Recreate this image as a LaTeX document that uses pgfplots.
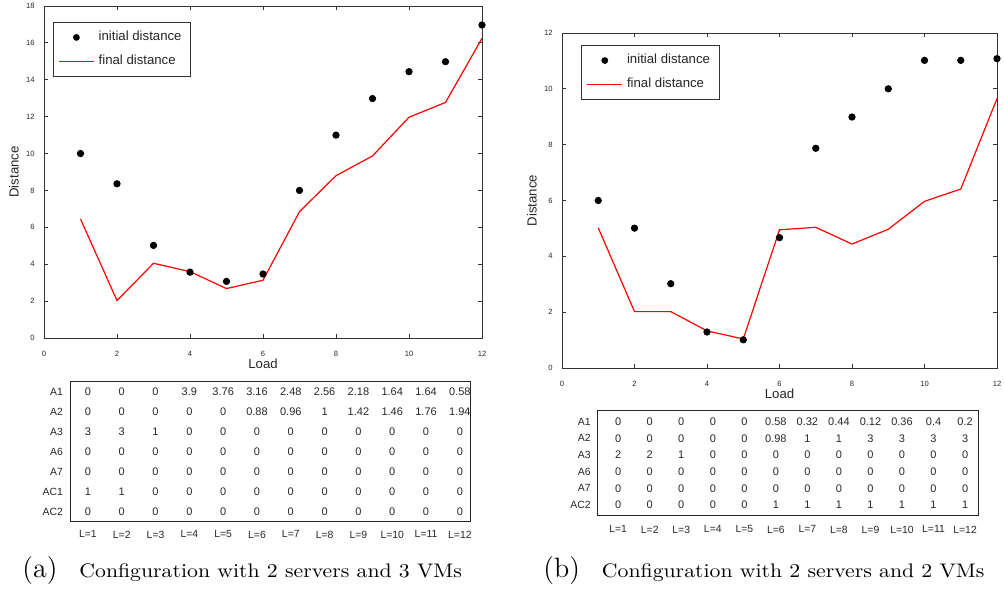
\documentclass[border=0pt]{standalone}
\usepackage{fontspec}
\usepackage{graphicx}
\usepackage{pgfplots}
\usepackage{pgfplotstable}
\pgfplotsset{compat=1.18}
\newfontfamily\hv{Liberation Sans}

\pgfplotstableread{
x init fin
1 10 6.45
2 8.36 2.03
3 5.02 4.05
4 3.57 3.6
5 3.07 2.68
6 3.47 3.13
7 8 6.85
8 11 8.8
9 12.98 9.87
10 14.44 11.97
11 14.98 12.77
12 16.97 16.25
}\dataA

\pgfplotstableread{
x init fin
1 6 5.02
2 5.01 2.02
3 3.02 2.02
4 1.29 1.33
5 1.01 1.04
6 4.67 4.95
7 7.87 5.04
8 8.99 4.44
9 10 4.97
10 11.02 5.97
11 11.02 6.41
12 11.08 9.65
}\dataB

\pgfplotstableread{
L A1 A2 A3 A6 A7 AC1 AC2
1 0 0 3 0 0 1 0
2 0 0 3 0 0 1 0
3 0 0 1 0 0 0 0
4 3.9 0 0 0 0 0 0
5 3.76 0 0 0 0 0 0
6 3.16 0.88 0 0 0 0 0
7 2.48 0.96 0 0 0 0 0
8 2.56 1 0 0 0 0 0
9 2.18 1.42 0 0 0 0 0
10 1.64 1.46 0 0 0 0 0
11 1.64 1.76 0 0 0 0 0
12 0.58 1.94 0 0 0 0 0
}\tabA

\pgfplotstableread{
L A1 A2 A3 A6 A7 AC2
1 0 0 2 0 0 0
2 0 0 2 0 0 0
3 0 0 1 0 0 0
4 0 0 0 0 0 0
5 0 0 0 0 0 0
6 0.58 0.98 0 0 0 1
7 0.32 1 0 0 0 1
8 0.44 1 0 0 0 1
9 0.12 3 0 0 0 1
10 0.36 3 0 0 0 1
11 0.4 3 0 0 0 1
12 0.2 3 0 0 0 1
}\tabB

\pgfplotsset{
  mainax/.style={
    scale only axis, anchor=south west,
    xmin=0, xmax=12, xtick={0,2,...,12},
    tick align=inside, major tick length=2pt,
    axis line style={black!80, line width=0.4pt},
    every tick/.style={black!80, line width=0.4pt},
    tick label style={font=\hv\fontsize{3.8}{4}\selectfont, text=black!85},
    /pgf/number format/assume math mode=true,
    xticklabel style={yshift=-3pt},
    yticklabel style={xshift=-1.2pt},
    every axis x label/.style={at={(axis description cs:0.5,0)}, anchor=center, yshift=-13pt, font=\hv\fontsize{6.6}{7}\selectfont, text=black!85},
    every axis y label/.style={at={(axis description cs:0,0.5)}, rotate=90, anchor=center, yshift=15pt, font=\hv\fontsize{6.6}{7}\selectfont, text=black!85},
    xlabel={Load}, ylabel={Distance},
    legend style={anchor=north west, draw=black!80, fill=white, font=\hv\fontsize{6.6}{7.5}\selectfont, text=black!85, inner xsep=2.5pt, inner ysep=2.4pt, row sep=1.8pt},
    legend cell align=left,
  },
  initp/.style={only marks, mark=*, mark size=1.6pt, black,
    legend image code/.code={\path[draw=none] (0pt,0pt) -- (17.5pt,0pt); \fill[black, draw=none] (8.75pt,0pt) circle[radius=1.7pt];}},
  finp/.style={draw=red, color=red, line width=0.6pt, mark=none,
    legend image code/.code={\draw[draw=red, line width=0.75pt] (0pt,0pt) -- (17.5pt,0pt);}},
  tabax/.style={
    scale only axis, anchor=south west,
    axis line style={black!85, line width=0.4pt},
    major tick length=0pt, xtick style={draw=none}, ytick style={draw=none},
    xtick={1,...,12},
    xticklabels={{L=1},{L=2},{L=3},{L=4},{L=5},{L=6},{L=7},{L=8},{L=9},{L=10},{L=11},{L=12}},
    tick label style={font=\hv\fontsize{5.2}{6}\selectfont, text=black!85},
    xticklabel style={yshift=-1pt},
  },
  cell/.style={draw=none, mark=none, nodes near coords, point meta=explicit symbolic,
    nodes near coords align=center,
    every node near coord/.append style={font=\hv\fontsize{5.5}{6}\selectfont, text=black!85, inner sep=0pt}},
}

\begin{document}
\begin{tikzpicture}
\useasboundingbox (0,0) rectangle (502pt,294.5pt);

% (a) chart
\begin{axis}[mainax, at={(22pt,125.5pt)}, width=219pt, height=166pt,
  ymin=0, ymax=18, ytick={0,2,...,18},
  legend style={at={(0.02,0.952)}}]
\addplot[initp] table[x=x, y=init] {\dataA};
\addlegendentry{initial distance}
\addplot[finp] table[x=x, y=fin] {\dataA};
\addlegendentry{final distance}
\end{axis}

% (b) chart
\begin{axis}[mainax, at={(281pt,110.5pt)}, width=217.5pt, height=167.5pt,
  ymin=0, ymax=12, ytick={0,2,...,12},
  legend style={at={(0.044,0.964)}}]
\addplot[initp] table[x=x, y=init] {\dataB};
\addlegendentry{initial distance}
\addplot[finp] table[x=x, y=fin] {\dataB};
\addlegendentry{final distance}
\end{axis}

% (a) table
\begin{axis}[tabax, at={(35pt,33.65pt)}, width=200pt, height=70pt,
  xmin=0.47, xmax=12.3, ymin=0.5, ymax=7.5,
  ytick={1,...,7}, yticklabels={AC2,AC1,A7,A6,A3,A2,A1}]
\addplot[cell] table[x=L, y expr=7, meta=A1] {\tabA};
\addplot[cell] table[x=L, y expr=6, meta=A2] {\tabA};
\addplot[cell] table[x=L, y expr=5, meta=A3] {\tabA};
\addplot[cell] table[x=L, y expr=4, meta=A6] {\tabA};
\addplot[cell] table[x=L, y expr=3, meta=A7] {\tabA};
\addplot[cell] table[x=L, y expr=2, meta=AC1] {\tabA};
\addplot[cell] table[x=L, y expr=1, meta=AC2] {\tabA};
\end{axis}

% (b) table
\begin{axis}[tabax, at={(298.85pt,36.65pt)}, width=190.3pt, height=52.85pt,
  xmin=0.35, xmax=12.42, ymin=0.36, ymax=6.7,
  ytick={1,...,6}, yticklabels={AC2,A7,A6,A3,A2,A1},
  xticklabel style={yshift=-0.5pt}]
\addplot[cell] table[x=L, y expr=6, meta=A1] {\tabB};
\addplot[cell] table[x=L, y expr=5, meta=A2] {\tabB};
\addplot[cell] table[x=L, y expr=4, meta=A3] {\tabB};
\addplot[cell] table[x=L, y expr=3, meta=A6] {\tabB};
\addplot[cell] table[x=L, y expr=2, meta=A7] {\tabB};
\addplot[cell] table[x=L, y expr=1, meta=AC2] {\tabB};
\end{axis}

% captions
\node[anchor=base west, inner sep=0pt] at (11pt,6pt)
  {{\fontsize{14}{15}\selectfont(a)}\hspace{11pt}\scalebox{1.11}[1]{\fontsize{9.8}{11}\selectfont Configuration with 2 servers and 3 VMs}};
\node[anchor=base west, inner sep=0pt] at (271.5pt,6pt)
  {{\fontsize{14}{15}\selectfont(b)}\hspace{11pt}\scalebox{1.11}[1]{\fontsize{9.8}{11}\selectfont Configuration with 2 servers and 2 VMs}};
\end{tikzpicture}
\end{document}
